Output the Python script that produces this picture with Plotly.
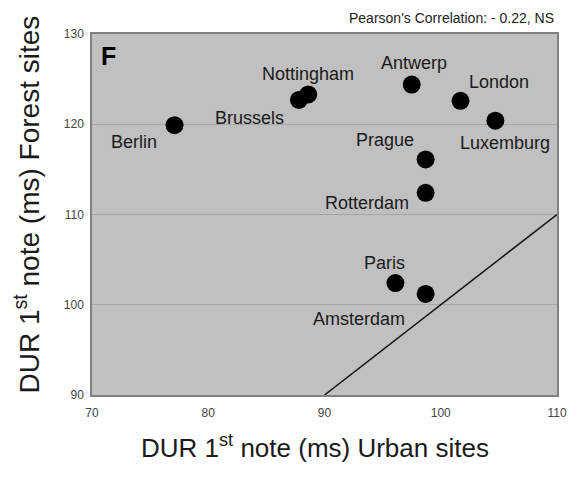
import plotly.graph_objects as go

# Data
cities = ["Berlin", "Brussels", "Nottingham", "Antwerp", "London",
          "Luxemburg", "Prague", "Rotterdam", "Paris", "Amsterdam"]
urban = [77.1, 87.8, 88.6, 97.5, 101.7, 104.7, 98.7, 98.7, 96.1, 98.7]
forest = [119.9, 122.7, 123.3, 124.4, 122.6, 120.4, 116.1, 112.4, 102.4, 101.2]

# identity reference line (y = x)
ref_x = [90, 110]
ref_y = [90, 110]

x_ticks = [70, 80, 90, 100, 110]
y_ticks = [90, 100, 110, 120, 130]

# label pixel offsets (styling)
label_shift = {
    "Berlin": (-41, -17), "Brussels": (-49, -18), "Nottingham": (0, 20),
    "Antwerp": (2, 22), "London": (38, 19), "Luxemburg": (10, -22),
    "Prague": (-41, 19), "Rotterdam": (-59, -10), "Paris": (-11, 20),
    "Amsterdam": (-67, -25),
}

FONT = "Liberation Sans, Arial, sans-serif"

fig = go.Figure()
fig.add_trace(go.Scatter(x=ref_x, y=ref_y, mode="lines",
                         line=dict(color="#111111", width=1.5),
                         hoverinfo="skip", showlegend=False))
fig.add_trace(go.Scatter(x=urban, y=forest, mode="markers",
                         marker=dict(color="black", size=18),
                         text=cities, showlegend=False))

annotations = []
for c, xv, yv in zip(cities, urban, forest):
    dx, dy = label_shift[c]
    annotations.append(dict(x=xv, y=yv, xref="x", yref="y", text=c,
                            showarrow=False, xshift=dx, yshift=dy,
                            font=dict(family=FONT, size=18, color="#1a1a1a")))

annotations += [
    dict(xref="paper", yref="paper", x=0, y=1, xanchor="left", yanchor="top",
         xshift=7, yshift=-6, text="<b>F</b>", showarrow=False,
         font=dict(family=FONT, size=25, color="black")),
    dict(xref="paper", yref="paper", x=1, y=1, xanchor="right", yanchor="middle",
         xshift=-1, yshift=16, text="Pearson's Correlation: - 0.22, NS",
         showarrow=False, font=dict(family=FONT, size=14, color="#222222")),
    dict(xref="paper", yref="paper", x=0.5, y=0, xanchor="center", yanchor="middle",
         xshift=-10, yshift=-51, text="DUR 1<sup>st</sup> note (ms) Urban sites",
         showarrow=False, font=dict(family=FONT, size=26, color="#1a1a1a")),
    dict(xref="paper", yref="paper", x=0, y=0.5, xanchor="center", yanchor="middle",
         xshift=-65, yshift=10, textangle=-90,
         text="DUR 1<sup>st</sup> note (ms) Forest sites",
         showarrow=False, font=dict(family=FONT, size=28, color="#1a1a1a")),
]

fig.update_layout(
    width=579, height=482,
    margin=dict(l=92, r=14, t=34, b=87),
    paper_bgcolor="white", plot_bgcolor="#c0c0c0",
    annotations=annotations,
    font=dict(family=FONT),
)
fig.update_xaxes(range=[70, 110], tickvals=x_ticks, showgrid=False, zeroline=False,
                 showline=True, linecolor="#808080", linewidth=1.5, mirror=True,
                 ticks="", ticklabelstandoff=6,
                 tickfont=dict(family=FONT, size=12, color="#444444"))
fig.update_yaxes(range=[90, 130], tickvals=y_ticks, showgrid=True, gridcolor="#a6a6a6",
                 gridwidth=1, zeroline=False,
                 showline=True, linecolor="#808080", linewidth=1.5, mirror=True,
                 ticks="", ticklabelstandoff=4,
                 tickfont=dict(family=FONT, size=12, color="#444444"))

fig.write_html("out.html")
